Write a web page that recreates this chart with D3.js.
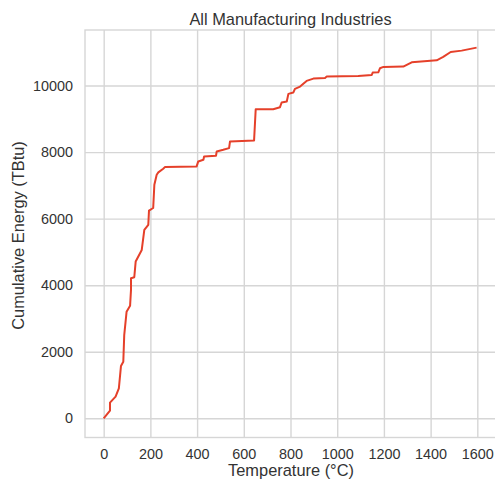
<!DOCTYPE html>
<html>
<head>
<meta charset="utf-8">
<script src="https://cdn.jsdelivr.net/npm/d3@7"></script>
<style>
    body { margin: 0; background: #fff; }
    text { font-family: "Liberation Sans", Arial, sans-serif; fill: #333; }
</style>
</head>
<body>
<div id="chart"></div>
<script>
'use strict';

// temperature (°C) and cumulative energy (TBtu)
var temperature = [0, 27, 27, 51, 65, 74, 84, 88, 98, 113, 117, 117, 131, 137, 163, 174, 191, 194, 212, 217, 227, 234, 255, 262,
    398, 405, 427, 430, 481, 484, 512, 537, 541, 644, 651, 726, 755, 762, 784, 791, 812, 819, 841, 869, 898,
    948, 955, 1090, 1148, 1152, 1176, 1183, 1198, 1283, 1319, 1426, 1454, 1486, 1533, 1597];
var energy = [0, 230, 470, 650, 900, 1570, 1700, 2500, 3200, 3380, 3860, 4210, 4240, 4710, 5060, 5660, 5810, 6240, 6320, 7020, 7320, 7390, 7500, 7550,
    7570, 7720, 7770, 7870, 7890, 8020, 8070, 8120, 8320, 8350, 9290, 9290, 9350, 9490, 9520, 9750, 9790, 9900, 9970, 10140, 10210,
    10230, 10270, 10290, 10320, 10390, 10400, 10520, 10560, 10570, 10700, 10760, 10860, 11010, 11050, 11140];
var x_ticks = [0, 200, 400, 600, 800, 1000, 1200, 1400, 1600];
var y_ticks = [0, 2000, 4000, 6000, 8000, 10000];

var width = 495,
    height = 483,
    plot_left = 85,
    plot_right = 496,
    plot_top = 30,
    plot_bottom = 437.5,
    grid_color = '#d6d6d6';

var svg = d3.select('#chart')
    .append('svg')
    .attr('width', width)
    .attr('height', height);

var x = d3.scaleLinear().domain([-80, 1680]).range([plot_left, plot_right]);
var y = d3.scaleLinear().domain([-577, 11670]).range([plot_bottom, plot_top]);

// gridlines come from the axes ticks
var x_axis = svg.append('g')
    .attr('transform', 'translate(0,' + plot_bottom + ')')
    .call(d3.axisBottom(x).tickValues(x_ticks).tickFormat(d3.format('d'))
        .tickSize(-(plot_bottom - plot_top)).tickPadding(11.5));
var y_axis = svg.append('g')
    .attr('transform', 'translate(' + plot_left + ',0)')
    .call(d3.axisLeft(y).tickValues(y_ticks).tickFormat(d3.format('d'))
        .tickSize(-(plot_right - plot_left)).tickPadding(12));

[x_axis, y_axis].forEach(function(axis) {
    axis.select('.domain').remove();
    axis.selectAll('line').attr('stroke', grid_color).attr('stroke-width', 1.4);
    axis.selectAll('text').style('font-size', '14.4px').attr('fill', '#333');
});

// frame
svg.append('rect')
    .attr('x', plot_left)
    .attr('y', plot_top)
    .attr('width', plot_right - plot_left)
    .attr('height', plot_bottom - plot_top)
    .attr('fill', 'none')
    .attr('stroke', grid_color)
    .attr('stroke-width', 1.4);

var line = d3.line()
    .x(function(d) { return x(d[0]); })
    .y(function(d) { return y(d[1]); });

svg.append('path')
    .datum(d3.zip(temperature, energy))
    .attr('d', line)
    .attr('fill', 'none')
    .attr('stroke', '#e5402a')
    .attr('stroke-width', 2)
    .attr('stroke-linejoin', 'round');

svg.append('text')
    .attr('x', 290.5)
    .attr('y', 25)
    .attr('text-anchor', 'middle')
    .style('font-size', '16.4px')
    .text('All Manufacturing Industries');

svg.append('text')
    .attr('x', 291)
    .attr('y', 476)
    .attr('text-anchor', 'middle')
    .style('font-size', '16.4px')
    .text('Temperature (°C)');

svg.append('text')
    .attr('transform', 'translate(24,235.5) rotate(-90)')
    .attr('text-anchor', 'middle')
    .style('font-size', '16.4px')
    .text('Cumulative Energy (TBtu)');
</script>
</body>
</html>
